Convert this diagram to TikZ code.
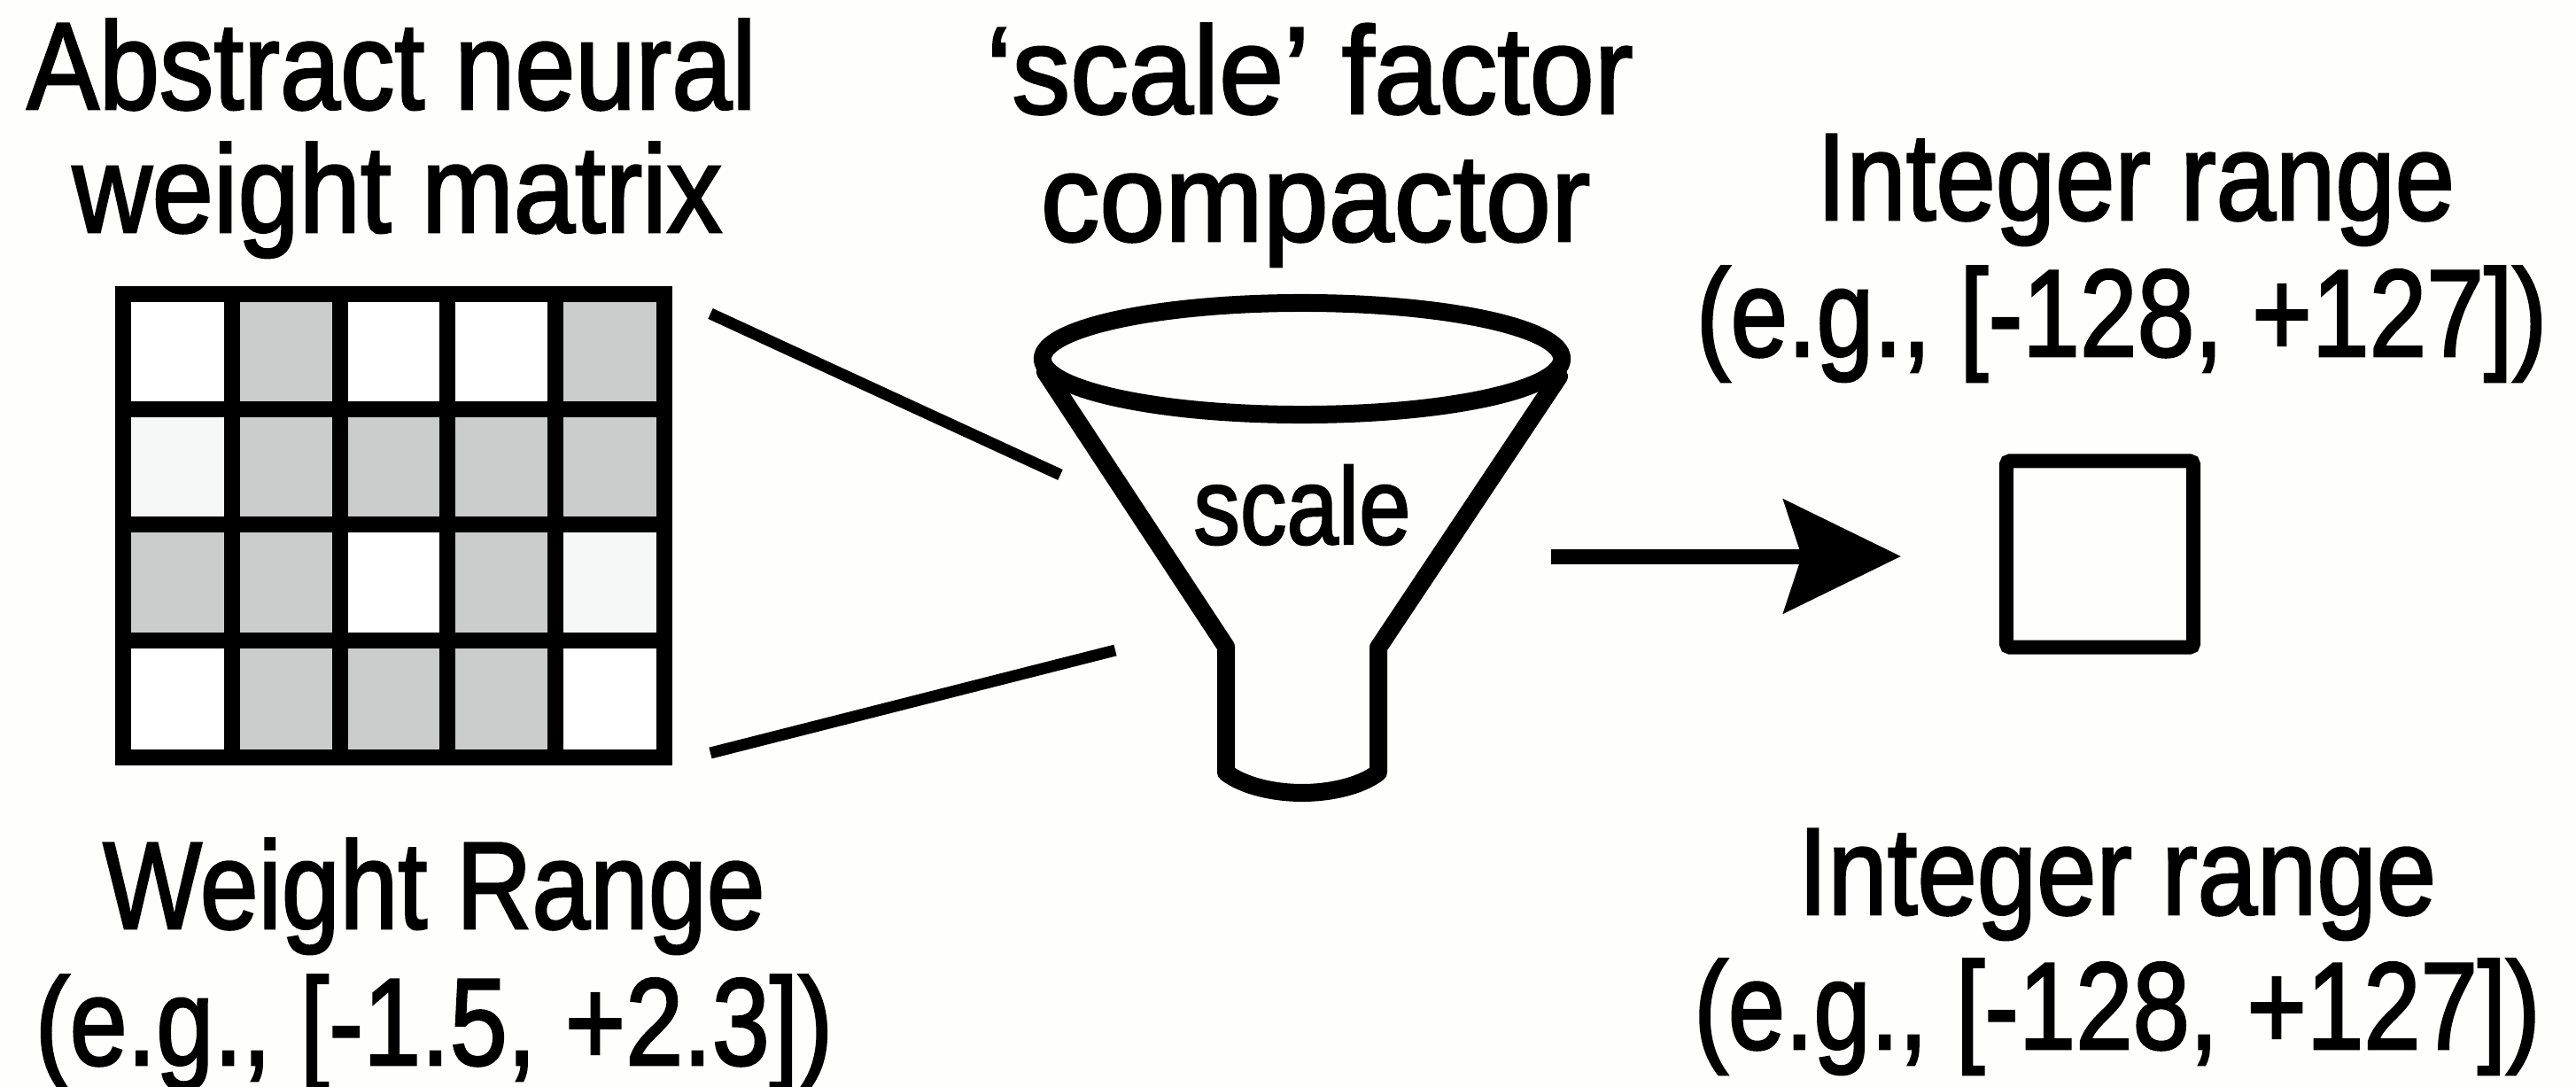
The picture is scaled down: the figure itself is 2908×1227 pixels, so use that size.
\documentclass[tikz,border=0pt]{standalone}
\usepackage{fontspec}
\usepackage{graphicx}
\usetikzlibrary{arrows.meta}
\newfontfamily\lblfont{Liberation Sans}[FakeBold=2]
\newcommand{\fitw}[2]{\resizebox{#1}{\height}{#2}}
\newcommand{\bigfont}{\lblfont\fontsize{39.8}{39.8}\selectfont}
\newcommand{\smlfont}{\lblfont\fontsize{35}{35}\selectfont}
\AtBeginDocument{\lineskiplimit=-100pt\relax}
\definecolor{bgc}{HTML}{FEFEFC}
\definecolor{cellg}{HTML}{CBCCCC}
\definecolor{celll}{HTML}{F6F7F7}
\tikzset{
  lbl/.style={anchor=base,align=center,inner sep=0pt,outer sep=0pt,text=black,font=\bigfont},
  scalelbl/.style={inner sep=0pt,outer sep=0pt,anchor=base,text=black,font=\smlfont},
  gridline/.style={line width=.18cm,line cap=rect,draw=black},
  cellW/.style={fill=white},
  cellG/.style={fill=cellg},
  cellL/.style={fill=celll},
  thin connector/.style={line width=.13cm,draw=black},
  funnel/.style={line width=.2cm,draw=black,line join=round,line cap=round},
  outbox/.style={draw=black,line width=.16cm,rounded corners=.04cm,minimum width=2.11cm,minimum height=2.10cm,inner sep=0pt,outer sep=0pt},
  flow/.style={line width=.17cm,draw=black,-{Stealth[length=1.32cm,width=1.27cm,inset=.2cm]}}
}
\begin{document}
\begin{tikzpicture}[x=0.01cm,y=-0.01cm]
\path[use as bounding box,fill=bgc] (0,0) rectangle (2908,1227);

% matrix cells
\foreach \xa/\xb/\c in {139/262/cellW,262/384/cellG,384/505/cellW,505/627/cellW,627/749.5/cellG}
  \fill[\c] (\xa,332) rectangle (\xb,462);
\foreach \xa/\xb/\c in {139/262/cellL,262/384/cellG,384/505/cellG,505/627/cellG,627/749.5/cellG}
  \fill[\c] (\xa,462) rectangle (\xb,592);
\foreach \xa/\xb/\c in {139/262/cellG,262/384/cellG,384/505/cellW,505/627/cellG,627/749.5/cellL}
  \fill[\c] (\xa,592) rectangle (\xb,723);
\foreach \xa/\xb/\c in {139/262/cellW,262/384/cellG,384/505/cellG,505/627/cellG,627/749.5/cellW}
  \fill[\c] (\xa,723) rectangle (\xb,855);
\foreach \x in {139,262,384,505,627,749.5}
  \draw[gridline] (\x,332) -- (\x,855);
\foreach \y in {332,462,592,723,855}
  \draw[gridline] (139,\y) -- (749.5,\y);

% labels
\node[lbl] (absl) at (448.5,262) {\fitw{8.23cm}{Abstract neural}\hspace*{.13cm}\\[-.01cm]\fitw{7.33cm}{weight matrix}};
\node[lbl] (scalef) at (1485,272) {\fitw{7.3cm}{‘scale’ factor}\hspace*{.13cm}\\[.04cm]\fitw{6.2cm}{compactor}};
\node[lbl] (inttop) at (2395,402) {\hspace*{.32cm}\fitw{7.2cm}{Integer range}\\[.14cm]\fitw{9.6cm}{(e.g., [-128, +127])}};
\node[lbl] (intbot) at (2390,1184) {\fitw{7.2cm}{Integer range}\\[.12cm]\fitw{9.55cm}{(e.g., [-128, +127])}};
\node[lbl] (wrange) at (490,1202) {\fitw{7.47cm}{Weight Range}\\[.14cm]\fitw{9.0cm}{(e.g., [-1.5, +2.3])}};

% connectors into the funnel
\coordinate (m1) at (802,354);
\coordinate (f1) at (1197,536);
\coordinate (m2) at (802,850);
\coordinate (f2) at (1259,734);
\draw[thin connector] (m1) -- (f1);
\draw[thin connector] (m2) -- (f2);

% funnel
\coordinate (fc) at (1470,405);
\draw[funnel] (fc) ellipse [x radius=2.93cm,y radius=.63cm];
\draw[funnel] (1180,420) -- (1384,730) -- (1384,872)
  .. controls (1405,888) and (1440,895) .. (1470,895)
  .. controls (1500,895) and (1535,888) .. (1556,872)
  -- (1556,731) -- (1760,425);
\node[scalelbl] (scl) at (1470,614) {\fitw{2.45cm}{scale}};

% output
\node[outbox] (out) at (2370.5,625.5) {};
\coordinate (as) at (1751,628);
\coordinate (at) at (2146,628);
\draw[flow] (as) -- (at);
\end{tikzpicture}
\end{document}
